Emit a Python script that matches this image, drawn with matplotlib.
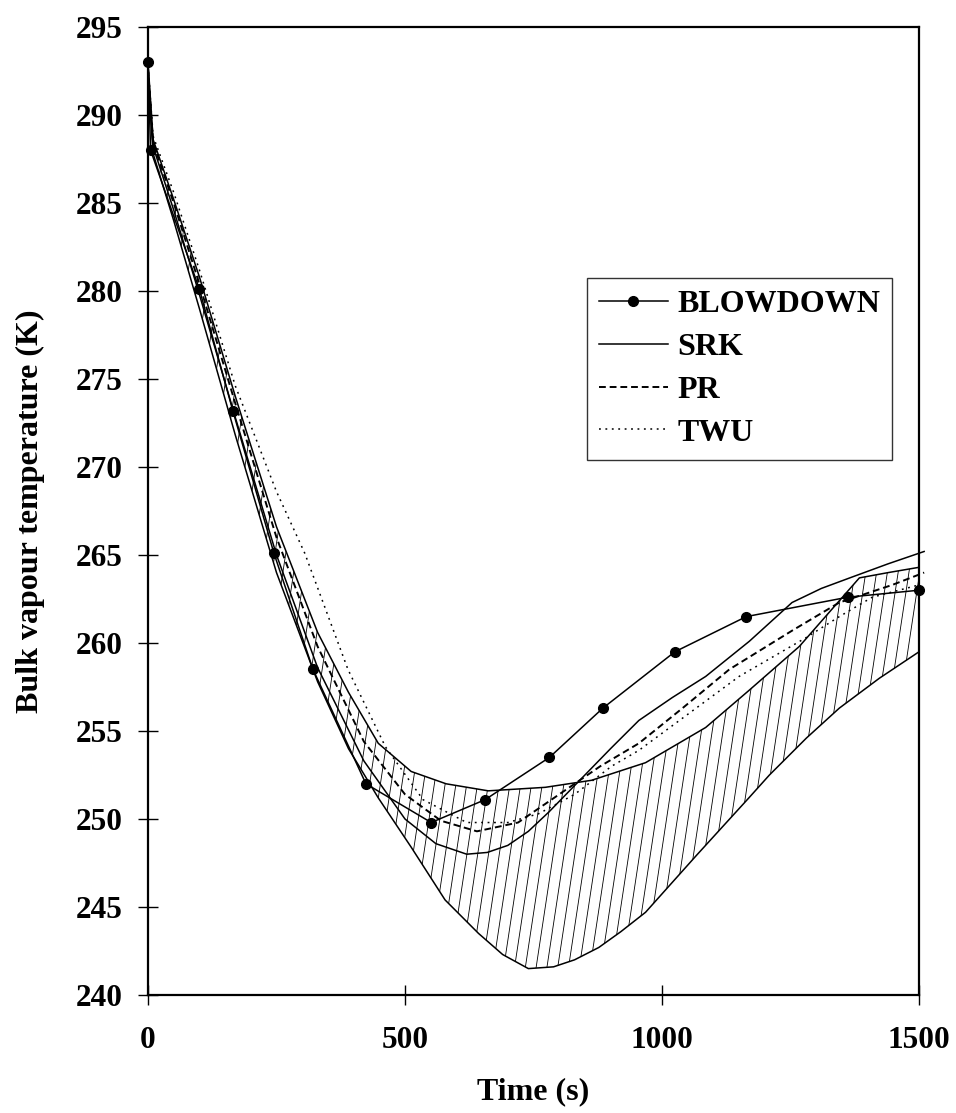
import numpy as np
import matplotlib
matplotlib.use("Agg")
import matplotlib.pyplot as plt
from matplotlib.collections import LineCollection
from matplotlib.patches import Polygon

plt.rcParams['font.family'] = ['Liberation Serif', 'DejaVu Serif']
plt.rcParams['font.weight'] = 'bold'

# BLOWDOWN prediction (markers)
bd_t = [0, 5, 100, 165, 245, 321, 424, 551, 656, 781, 885, 1025, 1164, 1361, 1500]
bd_T = [293.0, 288.0, 280.1, 273.2, 265.1, 258.5, 252.0, 249.8, 251.1, 253.5,
        256.3, 259.5, 261.5, 262.6, 263.0]

# SRK equation of state
srk_t = [0, 10, 50, 100, 170, 250, 330, 420, 500, 560, 620, 660, 700, 740,
         780, 820, 860, 900, 955, 1020, 1085, 1170, 1253, 1310, 1370, 1440, 1510]
srk_T = [292.8, 288.2, 284.6, 279.8, 272.8, 265.0, 258.6, 253.3, 250.0, 248.6,
         248.0, 248.1, 248.5, 249.3, 250.4, 251.6, 252.8, 254.0, 255.6, 256.9,
         258.1, 260.1, 262.3, 263.1, 263.75, 264.5, 265.2]

# Peng-Robinson
pr_t = [0, 10, 50, 100, 170, 250, 330, 420, 500, 570, 640, 720, 800, 880,
        955, 1040, 1131, 1253, 1345, 1448, 1510]
pr_T = [292.6, 288.4, 285.0, 280.4, 273.6, 266.0, 259.8, 254.4, 251.4, 249.9,
        249.3, 249.8, 251.4, 253.0, 254.3, 256.3, 258.5, 260.7, 262.3, 263.3, 264.0]

# Twu
twu_t = [0, 10, 50, 100, 170, 250, 305, 389, 462, 535, 620, 700, 760, 830,
         902, 955, 1150, 1280, 1345, 1409, 1500]
twu_T = [292.8, 288.8, 285.6, 281.2, 274.6, 268.6, 265.1, 258.5, 254.1, 251.1,
         249.8, 249.8, 250.3, 251.4, 253.0, 253.9, 258.1, 260.3, 261.5, 262.6, 263.3]

# measured range (hatched band)
up_t = [0, 10, 50, 100, 170, 250, 330, 390, 448, 512, 580, 662, 773, 863, 968,
        1085, 1169, 1267, 1345, 1384, 1440, 1500]
up_T = [293.0, 288.6, 285.2, 280.8, 274.0, 266.6, 260.6, 257.2, 254.3, 252.7,
        252.0, 251.6, 251.8, 252.2, 253.2, 255.2, 257.3, 259.8, 262.4, 263.7,
        264.0, 264.3]
lo_t = [0, 10, 50, 100, 170, 250, 330, 390, 448, 512, 578, 643, 690, 740, 789,
        830, 877, 920, 968, 1066, 1169, 1209, 1281, 1345, 1423, 1500]
lo_T = [292.0, 287.8, 284.0, 279.0, 271.8, 264.0, 257.8, 254.0, 251.2, 248.4,
        245.4, 243.5, 242.3, 241.5, 241.6, 242.0, 242.7, 243.6, 244.7, 247.9,
        251.2, 252.5, 254.6, 256.3, 258.0, 259.5]

fig = plt.figure(figsize=(9.56, 11.13), dpi=100)
ax = fig.add_axes([148 / 956, 1 - 995 / 1113, 771 / 956, 968 / 1113])

# band outline and steep hatching clipped to it
verts = np.vstack([np.column_stack([up_t, up_T]),
                   np.column_stack([lo_t, lo_T])[::-1]])
band = Polygon(verts, closed=True, facecolor='none', edgecolor='none')
ax.add_patch(band)
x0 = np.arange(-0.3, 1.05, 0.014)
segs = [[(x, 0), (x + 0.19, 1)] for x in x0]
hatch = LineCollection(segs, colors='black', linewidths=0.6,
                       transform=ax.transAxes)
ax.add_collection(hatch)
hatch.set_clip_path(band)

lw = 1.1
ax.plot(up_t, up_T, color='black', lw=lw, clip_on=False)
ax.plot(lo_t, lo_T, color='black', lw=lw, clip_on=False)
ax.plot(bd_t, bd_T, color='black', lw=lw, marker='o', ms=7,
        label='BLOWDOWN', clip_on=False, zorder=5)
ax.plot(srk_t, srk_T, color='black', lw=lw, label='SRK', clip_on=False)
ax.plot(pr_t, pr_T, color='black', lw=1.4, dashes=(3.5, 2), label='PR',
        clip_on=False)
ax.plot(twu_t, twu_T, color='black', lw=1.1, dashes=(1.2, 3), label='TWU',
        clip_on=False)

ax.set_xlim(0, 1500)
ax.set_ylim(240, 295)
ax.set_xticks([0, 500, 1000, 1500])
ax.set_yticks(np.arange(240, 296, 5))
ax.tick_params(direction='inout', length=14, width=1, labelsize=22.5)
ax.tick_params(axis='x', pad=15)
ax.tick_params(axis='y', pad=11)
for s in ax.spines.values():
    s.set_linewidth(1.6)

ax.set_xlabel('Time (s)', fontsize=23, fontweight='bold', labelpad=16)
ax.set_ylabel('Bulk vapour temperature (K)', fontsize=23, fontweight='bold',
              labelpad=22)

leg = ax.legend(loc='upper left', bbox_to_anchor=(0.569, 0.741),
                borderaxespad=0, fontsize=23, handlelength=2.15,
                handletextpad=0.3, labelspacing=0.42, borderpad=0.38,
                fancybox=False, framealpha=1)
leg.get_frame().set_edgecolor('#333333')
leg.get_frame().set_linewidth(1.0)

fig.savefig('out.png', dpi=100, facecolor='white')
